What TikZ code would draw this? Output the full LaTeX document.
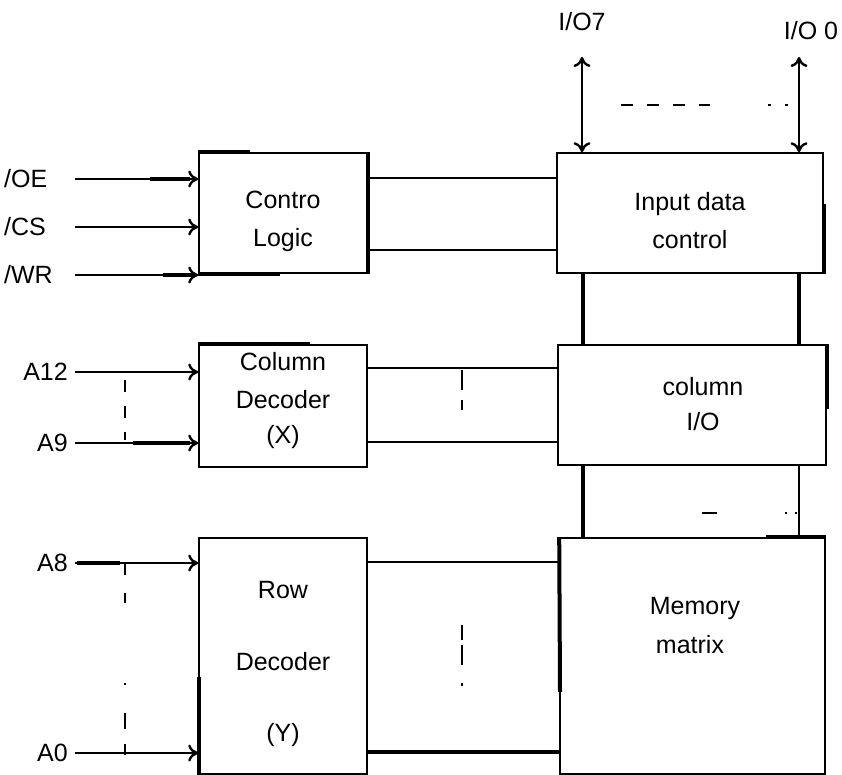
\documentclass[tikz,border=0pt]{standalone}
\usepackage{fontspec}
\setmainfont{Liberation Sans}
\usetikzlibrary{arrows.meta}
\begin{document}
\begin{tikzpicture}[x=1pt,y=-1pt,
  box/.style={draw, line width=1.6pt, inner sep=0pt, fill=none},
  txt/.style={font=\fontsize{25}{29}\selectfont, inner sep=0pt},
  wire/.style={line width=1.7pt},
  thk/.style={line width=4pt},
  tip/.style={},
  arr/.style={wire, -{To[length=10pt,width=17pt,line width=2.4pt]}},
  biarr/.style={wire, {To[length=10pt,width=17pt,line width=2.4pt]}-{To[length=10pt,width=17pt,line width=2.4pt]}},
  dsh/.style={line width=1.7pt, dash pattern=on 12pt off 14pt}
]
\useasboundingbox (0,0) rectangle (842,775);
\begin{scope}
\clip (0,0) rectangle (842,775);
% boxes
\node[box, minimum width=168pt, minimum height=120pt] (cl) at (283,213) {};
\node[box, minimum width=266pt, minimum height=120pt] (idc) at (690,213) {};
\node[box, minimum width=168pt, minimum height=122pt] (cd) at (283,406) {};
\node[box, minimum width=268pt, minimum height=120pt] (cio) at (692,405) {};
\node[box, minimum width=168pt, minimum height=236pt] (rd) at (283,656) {};
\node[box, minimum width=265pt, minimum height=236pt] (mm) at (692.5,656) {};

% box texts
\node[txt] (t1) at (283,200) {Contro};
\node[txt] (t2) at (283,240) {Logic};
\node[txt] (t3) at (690,204) {Input data};
\node[txt] (t4) at (690,240) {control};
\node[txt] (t5) at (283,362) {Column};
\node[txt] (t6) at (283,400) {Decoder};
\node[txt] (t7) at (283,437) {(X)};
\node[txt] (t8) at (703,387) {column};
\node[txt] (t9) at (703,422) {I/O};
\node[txt] (t10) at (283,590) {Row};
\node[txt] (t11) at (283,662) {Decoder};
\node[txt] (t12) at (283,735) {(Y)};
\node[txt] (t13) at (695,608) {Memory};
\node[txt] (t14) at (690,645) {matrix};

% input wires
\coordinate (oeS) at (75,179);
\coordinate (csS) at (75,227);
\coordinate (wrS) at (75,275);
\node[txt, anchor=west] (oe) at (4,179) {/OE};
\node[txt, anchor=west] (cs) at (4,227) {/CS};
\node[txt, anchor=west] (wr) at (4,275) {/WR};
\draw[arr] (oeS) -- (oeS -| cl.west);
\draw[arr] (csS) -- (csS -| cl.west);
\draw[arr] (wrS) -- (wrS -| cl.west);

\coordinate (a12S) at (75,372);
\coordinate (a9S) at (75,443);
\coordinate (a8S) at (75,563);
\coordinate (a0S) at (75,753);
\node[txt, anchor=east] (a12) at (68,372) {A12};
\node[txt, anchor=east] (a9) at (68,443) {A9};
\node[txt, anchor=east] (a8) at (68,563) {A8};
\node[txt, anchor=east] (a0) at (68,753) {A0};
\draw[arr] (a12S) -- (a12S -| cd.west);
\draw[arr] (a9S) -- (a9S -| cd.west);
\draw[arr] (a8S) -- (a8S -| rd.west);
\draw[arr] (a0S) -- (a0S -| rd.west);

% links between left and right boxes
\coordinate (l1) at (367,178);
\coordinate (l2) at (367,250);
\coordinate (l3) at (367,368);
\coordinate (l4) at (367,442);
\coordinate (l5) at (367,562);
\coordinate (l6) at (367,752);
\draw[wire] (l1) -- (l1 -| idc.west);
\draw[wire] (l2) -- (l2 -| idc.west);
\draw[wire] (l3) -- (l3 -| cio.west);
\draw[wire] (l4) -- (l4 -| cio.west);
\draw[wire] (l5) -- (l5 -| mm.west);
\draw[thk] (l6) -- (l6 -| mm.west);

% I/O arrows
\coordinate (io7S) at (582,57);
\coordinate (io0S) at (799,57);
\node[txt] (io7) at (582,22) {I/O7};
\node[txt] (io0) at (811,31) {I/O 0};
\draw[biarr] (io7S) -- (io7S |- idc.north);
\draw[biarr] (io0S) -- (io0S |- idc.north);

% vertical buses
\coordinate (v1) at (583,0);
\coordinate (v2) at (799,0);
\draw[thk] (v1 |- idc.south) -- (v1 |- cio.north);
\draw[thk] (v2 |- idc.south) -- (v2 |- cio.north);
\draw[thk] (v1 |- cio.south) -- (v1 |- mm.north);
\draw[wire] (v2 |- cio.south) -- (v2 |- mm.north);

% dashed ellipsis marks
\draw[dsh] (621,105) -- (710,105);
\draw[wire, dash pattern=on 3pt off 14pt] (768,105) -- (797,105);
\draw[dsh] (125,380) -- (125,440);
\draw[wire, dash pattern=on 12pt off 18pt on 10pt off 80pt on 2pt off 28pt on 16pt off 15pt on 12pt off 10pt] (125,563) -- (125,755);
\draw[wire, dash pattern=on 20pt off 10pt on 10pt off 20pt] (462,370) -- (462,411);
\draw[wire, dash pattern=on 15pt off 5pt on 20pt off 18pt on 3pt off 10pt] (462,625) -- (462,688);
\draw[wire] (702,513) -- (717,513);
\draw[wire, dash pattern=on 2pt off 8pt] (785,513) -- (797,513);

% heavy segments seen in the reference
\draw[thk] (cl.north west) -- ++(52,0);
\draw[thk] (cl.south west) -- ++(82,0);
\draw[thk] (cl.north east) -- (cl.south east);
\draw[thk] (150,179) -- (190,179);
\draw[thk] (163,275) -- (192,275);
\draw[thk] (cd.north west) -- ++(112,0);
\draw[thk] (133,443) -- (190,443);
\draw[thk] (77,563) -- (120,563);
\draw[thk] (199,677) -- (199,775);
\draw[thk] (mm.north west) -- (560,692);
\draw[thk] (idc.south east) -- ++(0,-70);
\draw[thk] (cio.north east) -- ++(0,65);
\draw[thk] (mm.north east) -- ++(-60,0);
\end{scope}
\end{tikzpicture}
\end{document}
